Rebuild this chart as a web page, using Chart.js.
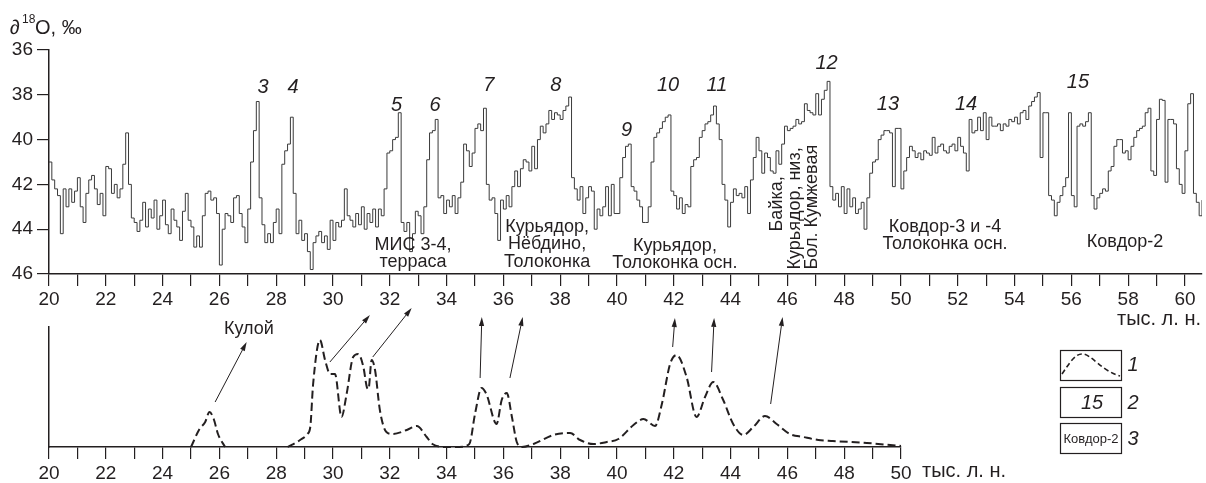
<!DOCTYPE html>
<html lang="ru">
<head>
<meta charset="utf-8">
<title>δ18O и вероятность датировок</title>
<script src="https://cdn.jsdelivr.net/npm/chart.js@4.4.1/dist/chart.umd.min.js"></script>
<style>
  html, body { margin: 0; padding: 0; background: #fff; }
  #wrap { position: relative; width: 1206px; height: 483px; }
  #wrap canvas { position: absolute; left: 0; top: 0; }
</style>
</head>
<body>
<div id="wrap">
  <canvas id="isotope-chart" width="1206" height="483"></canvas>
  <canvas id="density-chart" width="1206" height="483"></canvas>
</div>
<script>
const FONT = "'Liberation Sans', Arial, Helvetica, sans-serif";
const INK = '#231f20';

// δ18O record, one value per 0.1 kyr starting at 20.0 ka
const isoStart = 20.0;
const isoStep = 0.1;
const isoValues = [
  41.0, 41.8, 42.2, 42.5, 44.2, 42.2, 43.0, 42.2, 42.8, 42.3,   // 20
  41.7, 43.0, 43.7, 42.4, 41.8, 41.6, 42.2, 42.9, 42.4, 43.4,   // 21
  41.2, 41.3, 42.4, 42.0, 42.6, 42.2, 41.1, 39.7, 42.0, 43.5,   // 22
  43.7, 44.1, 43.6, 42.8, 43.9, 43.1, 43.5, 42.7, 44.0, 43.4,   // 23
  42.7, 43.8, 44.2, 43.1, 43.6, 43.9, 44.5, 43.2, 42.4, 43.6,   // 24
  43.9, 44.8, 44.3, 44.8, 43.4, 42.4, 42.3, 42.7, 42.6, 43.3,   // 25
  45.6, 44.0, 43.3, 43.4, 43.7, 42.6, 42.5, 43.3, 43.9, 44.6,   // 26
  43.1, 41.0, 39.6, 38.3, 42.6, 43.8, 44.6, 44.2, 44.6, 43.7,   // 27
  43.1, 44.2, 41.1, 40.5, 40.2, 39.0, 42.4, 44.2, 43.6, 44.5,   // 28
  44.2, 45.0, 45.8, 44.6, 44.3, 44.1, 44.6, 44.3, 44.9, 43.6,   // 29
  44.5, 43.7, 43.9, 43.6, 42.2, 43.4, 43.6, 43.9, 43.3, 43.8,   // 30
  43.0, 44.0, 43.3, 43.7, 43.1, 43.9, 43.1, 43.4, 42.2, 40.6,   // 31
  40.5, 40.0, 39.9, 38.8, 43.7, 44.1, 43.7, 45.0, 44.2, 43.2,   // 32
  43.4, 44.2, 43.0, 40.9, 39.7, 39.6, 39.1, 42.6, 42.5, 43.3,   // 33
  42.7, 43.0, 42.5, 43.3, 42.6, 41.9, 40.2, 40.5, 41.2, 40.6,   // 34
  39.5, 39.3, 39.6, 38.6, 42.0, 42.7, 42.6, 43.3, 44.5, 42.7,   // 35
  43.1, 42.5, 43.0, 42.1, 41.4, 42.1, 41.3, 40.9, 41.0, 41.4,   // 36
  40.3, 41.3, 40.0, 39.4, 39.7, 39.3, 38.7, 39.1, 38.8, 38.9,   // 37
  39.1, 38.7, 38.5, 38.1, 41.7, 42.2, 42.7, 42.1, 43.3, 42.6,   // 38
  42.1, 42.3, 44.0, 43.1, 43.4, 43.0, 42.1, 43.4, 42.0, 43.3,   // 39
  43.3, 41.7, 40.8, 40.3, 40.2, 42.1, 42.3, 42.7, 43.0, 43.7,   // 40
  43.7, 43.0, 41.0, 39.9, 39.7, 39.5, 39.2, 39.0, 38.9, 42.3,   // 41
  42.5, 43.1, 42.6, 43.3, 42.9, 43.0, 41.2, 40.9, 40.8, 39.9,   // 42
  39.6, 39.3, 39.2, 38.9, 38.5, 39.3, 40.0, 42.0, 42.7, 43.9,   // 43
  42.8, 42.2, 42.5, 42.4, 42.6, 42.1, 43.3, 41.8, 40.8, 39.9,   // 44
  40.5, 41.5, 40.6, 40.8, 41.4, 41.5, 40.5, 41.1, 40.2, 39.4,   // 45
  39.6, 39.5, 39.4, 39.1, 39.3, 39.2, 38.4, 38.7, 38.8, 38.9,   // 46
  37.95, 38.9, 38.2, 37.8, 37.4, 42.1, 42.7, 42.4, 43.0, 42.1,  // 47
  43.3, 42.2, 43.0, 42.6, 43.3, 43.1, 42.8, 44.0, 42.6, 41.5,   // 48
  41.0, 40.9, 40.0, 39.8, 39.6, 39.6, 39.7, 42.1, 39.5, 39.5,   // 49
  42.2, 41.4, 40.8, 40.3, 40.5, 40.8, 40.6, 40.9, 40.5, 40.6,   // 50
  40.7, 39.9, 40.6, 40.3, 40.2, 40.5, 40.6, 40.3, 40.2, 40.5,   // 51
  39.9, 40.3, 40.6, 41.4, 39.1, 39.7, 39.6, 39.0, 39.6, 38.8,   // 52
  40.0, 39.0, 39.4, 39.4, 39.3, 39.6, 39.3, 39.4, 39.1, 39.2,   // 53
  39.0, 39.3, 38.8, 38.7, 39.1, 38.5, 38.3, 38.1, 37.9, 40.8,   // 54
  38.8, 38.8, 42.5, 42.7, 43.4, 42.8, 42.5, 42.1, 41.7, 38.8,   // 55
  42.5, 43.0, 39.4, 39.3, 39.4, 39.2, 38.8, 42.5, 43.1, 42.6,   // 56
  42.4, 42.2, 42.3, 41.4, 41.2, 40.3, 40.0, 40.0, 40.6, 40.5,   // 57
  40.9, 40.3, 39.9, 39.6, 39.5, 39.4, 38.8, 38.6, 41.4, 41.6,   // 58
  39.1, 38.2, 38.25, 41.9, 39.1, 39.1, 39.3, 41.3, 42.0, 42.4,  // 59
  40.5, 38.4, 37.95, 42.4, 42.8, 43.4, 42.7                     // 60
];

// probability curve of dates (relative units)
const pdfAges = [
  25.0, 25.3, 25.5, 25.65, 25.8, 25.95, 26.2, 27.0,
  28.4, 28.84, 29.1, 29.2, 29.3, 29.54, 29.72, 29.9, 30.07, 30.3, 30.48, 30.71,
  30.89, 31.07, 31.19, 31.25, 31.36, 31.48, 31.65, 31.88, 32.1, 32.6,
  32.95, 33.3, 33.5, 33.98, 34.45, 34.8, 35.0, 35.23, 35.4, 35.76,
  35.94, 36.12, 36.3, 36.47, 36.65, 37.06, 37.76, 38.35, 38.7, 39.17,
  39.64, 40.05, 40.58, 40.93, 41.34, 41.58, 41.87, 42.1, 42.45, 42.8,
  43.1, 43.39, 43.74, 44.09, 44.45, 44.8, 45.21, 45.62, 46.09, 46.56,
  47.09, 47.6, 48.8, 50.0
];
const pdfValues = [
  0, 18, 25, 35, 28, 13, 0, null,
  0, 7, 13, 20, 63, 107, 87, 73, 73, 30, 53, 90,
  93, 80, 60, 58, 87, 77, 37, 15, 13, 17,
  21, 10, 3, 0, 0, 3, 33, 59, 53, 23,
  47, 54, 30, 5, 0, 3, 12, 14, 7, 3,
  5, 8, 22, 28, 21, 43, 83, 92, 70, 30,
  50, 65, 47, 23, 12, 20, 31, 23, 13, 10,
  7, 6, 4, 1
];

// axis tick range (kyr): tick every 1, label every 2
const topTickFirst = 20, topTickLast = 60;
const bottomTickFirst = 20, bottomTickLast = 50;

// numbered isotope peaks: label, age, level (‰)
const peakNames = ['3', '4', '5', '6', '7', '8', '9', '10', '11', '12', '13', '14', '15'];
const peakAges = [27.54, 28.59, 32.24, 33.59, 35.49, 37.85, 40.34, 41.8, 43.52, 47.38, 49.54, 52.29, 56.23];
const peakLevels = [37.67, 37.67, 38.47, 38.47, 37.58, 37.58, 39.58, 37.58, 37.58, 36.6, 38.42, 38.42, 37.44];

// site groups written under the curve
const siteNotes = [
  { age: 32.82, level: 44.69, lines: ['МИС 3-4,', 'терраса'] },
  { age: 37.54, level: 43.89, lines: ['Курьядор,', 'Нёбдино,', 'Толоконка'] },
  { age: 42.04, level: 44.73, lines: ['Курьядор,', 'Толоконка осн.'] },
  { age: 51.55, level: 43.89, lines: ['Ковдор-3 и -4', 'Толоконка осн.'] },
  { age: 57.89, level: 44.56, lines: ['Ковдор-2'] }
];
// vertical notes: text, age, level where the text starts
const verticalNotes = [
  ['Байка,', 45.63, 44.1],
  ['Курьядор, низ,', 46.27, 45.8],
  ['Бол. Кумжевая', 46.87, 45.8]
];

// arrows from density peaks up to the record: [fromAge, fromVal, toAge, toVal]
const arrows = [
  [25.85, 45, 26.96, 105],
  [29.89, 85, 31.3, 132],
  [31.4, 90, 32.77, 139],
  [35.18, 69, 35.24, 130],
  [36.23, 69, 36.68, 130],
  [41.96, 100, 42.04, 129],
  [43.33, 75, 43.42, 129],
  [45.41, 43, 45.83, 130]
];

const isoPoints = isoValues.map((v, i) => ({ x: +(isoStart + i * isoStep).toFixed(1), y: v }));
const pdfPoints = pdfAges.map((a, i) => ({ x: a, y: pdfValues[i] }));

function evenLabel(value) {
    return value % 2 === 0 ? String(value) : '';
}

function kyrTicks(first, last) {
    return function (scale) {
        const ticks = [];
        for (let v = first; v <= last; v++) ticks.push({ value: v });
        scale.ticks = ticks;
    };
}

function axisStyle() {
    return {
        grid: { display: true, drawOnChartArea: false, drawTicks: true, tickLength: 12, color: INK, lineWidth: 1.2 },
        border: { display: true, color: INK, width: 1.5 }
    };
}

function drawArrow(ctx, x1, y1, x2, y2) {
    const a = Math.atan2(y2 - y1, x2 - x1);
    const head = 9, half = 2.6;
    const bx = x2 - head * Math.cos(a), by = y2 - head * Math.sin(a);
    ctx.beginPath();
    ctx.moveTo(x1, y1);
    ctx.lineTo(bx, by);
    ctx.stroke();
    ctx.beginPath();
    ctx.moveTo(x2, y2);
    ctx.lineTo(bx + half * Math.sin(a), by - half * Math.cos(a));
    ctx.lineTo(bx - half * Math.sin(a), by + half * Math.cos(a));
    ctx.closePath();
    ctx.fill();
}

const isotopeNotes = {
    id: 'isotopeNotes',
    afterDraw(chart) {
        const { ctx, scales: { x, y } } = chart;
        ctx.save();
        ctx.fillStyle = INK;

        // axis title ∂18O, ‰
        ctx.textAlign = 'left';
        ctx.textBaseline = 'alphabetic';
        ctx.font = `20px ${FONT}`;
        ctx.fillText('∂', 10, 34);
        ctx.font = `12px ${FONT}`;
        ctx.fillText('18', 22, 23);
        ctx.font = `20px ${FONT}`;
        ctx.fillText('O, ‰', 35, 34);

        // peak numbers
        ctx.textAlign = 'center';
        ctx.textBaseline = 'middle';
        ctx.font = `italic 20px ${FONT}`;
        peakNames.forEach((name, i) => {
            ctx.fillText(name, x.getPixelForValue(peakAges[i]), y.getPixelForValue(peakLevels[i]));
        });

        // site groups
        ctx.font = `18px ${FONT}`;
        siteNotes.forEach(note => {
            const px = x.getPixelForValue(note.age);
            const py = y.getPixelForValue(note.level);
            note.lines.forEach((line, k) => ctx.fillText(line, px, py + k * 17.5));
        });

        verticalNotes.forEach(([text, age, level]) => {
            ctx.save();
            ctx.translate(x.getPixelForValue(age), y.getPixelForValue(level));
            ctx.rotate(-Math.PI / 2);
            ctx.textAlign = 'left';
            ctx.fillText(text, 0, 0);
            ctx.restore();
        });

        // units under the axis
        ctx.textAlign = 'right';
        ctx.textBaseline = 'alphabetic';
        ctx.font = `20px ${FONT}`;
        ctx.fillText('тыс. л. н.', 1201, 325);
        ctx.restore();
    }
};

const densityNotes = {
    id: 'densityNotes',
    afterDraw(chart) {
        const { ctx, scales: { x, y } } = chart;
        ctx.save();
        ctx.fillStyle = INK;
        ctx.strokeStyle = INK;
        ctx.lineWidth = 1;

        arrows.forEach(([a1, v1, a2, v2]) => {
            drawArrow(ctx, x.getPixelForValue(a1), y.getPixelForValue(v1), x.getPixelForValue(a2), y.getPixelForValue(v2));
        });

        ctx.textAlign = 'center';
        ctx.textBaseline = 'middle';
        ctx.font = `18px ${FONT}`;
        ctx.fillText('Кулой', x.getPixelForValue(27.04), y.getPixelForValue(118));

        ctx.textAlign = 'left';
        ctx.textBaseline = 'alphabetic';
        ctx.font = `20px ${FONT}`;
        ctx.fillText('тыс. л. н.', 922, 477);

        // legend boxes
        ctx.lineWidth = 1.2;
        ctx.strokeRect(1060.5, 350.5, 61, 30);
        ctx.strokeRect(1060.5, 387.5, 61, 30);
        ctx.strokeRect(1060.5, 423.5, 61, 30);

        ctx.save();
        ctx.setLineDash([5, 3]);
        ctx.lineWidth = 1.6;
        ctx.beginPath();
        ctx.moveTo(1062, 374);
        ctx.bezierCurveTo(1070, 362, 1076, 353, 1083, 354);
        ctx.bezierCurveTo(1092, 355, 1102, 371, 1120, 376);
        ctx.stroke();
        ctx.restore();

        ctx.textAlign = 'center';
        ctx.textBaseline = 'middle';
        ctx.font = `italic 20px ${FONT}`;
        ctx.fillText('15', 1092, 403);
        ctx.font = `13px ${FONT}`;
        ctx.fillText('Ковдор-2', 1091, 439);

        ctx.font = `italic 20px ${FONT}`;
        ctx.fillText('1', 1133, 365);
        ctx.fillText('2', 1133, 403);
        ctx.fillText('3', 1133, 439);
        ctx.restore();
    }
};

new Chart(document.getElementById('isotope-chart'), {
    type: 'line',
    data: {
        datasets: [{
            label: 'δ18O',
            data: isoPoints,
            borderColor: '#3a3a3a',
            borderWidth: 1,
            pointRadius: 0,
            stepped: true,
            fill: false
        }]
    },
    options: {
        responsive: false,
        animation: false,
        layout: { padding: { top: 50, right: 4, left: 0, bottom: 0 } },
        plugins: { legend: { display: false }, tooltip: { enabled: false } },
        scales: {
            x: {
                type: 'linear',
                min: 20,
                max: 60.6,
                afterFit: s => { s.height = 209; },
                afterBuildTicks: kyrTicks(topTickFirst, topTickLast),
                ticks: {
                    autoSkip: false, maxRotation: 0, padding: 2,
                    color: INK, font: { family: FONT, size: 19 },
                    callback: evenLabel
                },
                ...axisStyle()
            },
            y: {
                type: 'linear',
                reverse: true,
                min: 36,
                max: 46,
                afterFit: s => { s.width = 49; },
                ticks: { stepSize: 2, padding: 4, color: INK, font: { family: FONT, size: 19 } },
                ...axisStyle()
            }
        }
    },
    plugins: [isotopeNotes]
});

new Chart(document.getElementById('density-chart'), {
    type: 'line',
    data: {
        datasets: [{
            label: 'вероятность',
            data: pdfPoints,
            borderColor: INK,
            borderWidth: 2,
            borderDash: [8, 4],
            pointRadius: 0,
            cubicInterpolationMode: 'monotone',
            spanGaps: false,
            fill: false,
            clip: 4
        }]
    },
    options: {
        responsive: false,
        animation: false,
        layout: { padding: { top: 327, right: 305, left: 0, bottom: 0 } },
        plugins: { legend: { display: false }, tooltip: { enabled: false } },
        scales: {
            x: {
                type: 'linear',
                min: 20,
                max: 50,
                afterFit: s => { s.height = 36; },
                afterBuildTicks: kyrTicks(bottomTickFirst, bottomTickLast),
                ticks: {
                    autoSkip: false, maxRotation: 0, padding: 3,
                    color: INK, font: { family: FONT, size: 19 },
                    callback: evenLabel
                },
                ...axisStyle()
            },
            y: {
                type: 'linear',
                min: 0,
                max: 120,
                afterFit: s => { s.width = 49; },
                ticks: { display: false },
                grid: { display: true, drawOnChartArea: false, drawTicks: false },
                border: { display: true, color: INK, width: 1.5 }
            }
        }
    },
    plugins: [densityNotes]
});
</script>
</body>
</html>
